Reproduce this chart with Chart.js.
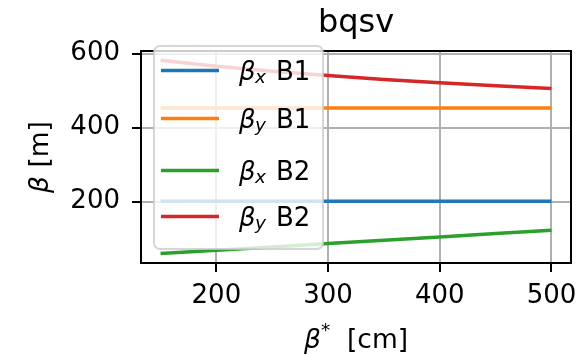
<!DOCTYPE html>
<html><head><meta charset="utf-8">
<script src="https://cdn.jsdelivr.net/npm/chart.js@4/dist/chart.umd.min.js"></script>
<style>html,body{margin:0;padding:0;background:#fff;overflow:hidden}canvas{display:block}</style>
</head><body>
<canvas id="c" width="588" height="354"></canvas>
<script>
// ---- data ----
const betaStar = [150, 200, 250, 300, 350, 400, 450, 500];
const betaXB1  = [201, 201, 201, 201, 201, 201, 201, 201];
const betaYB1  = [453, 453, 453, 453, 453, 453, 453, 453];
const betaXB2  = [60, 69, 78, 87, 96, 105, 114, 123];
const betaYB2  = [582, 566, 552, 541, 530, 521, 513, 506];
const xTicks = [200, 300, 400, 500];
const yTicks = [200, 400, 600];
const legendSubs  = ['x', 'y', 'x', 'y'];
const legendBeams = ['B1', 'B1', 'B2', 'B2'];
const colors = ['#1f77b4', '#ff7f0e', '#2ca02c', '#d62728'];
const titleText = 'bqsv';

const series = [betaXB1, betaYB1, betaXB2, betaYB2];
const FONT = "'DejaVu Sans'";
const TXT = '#000';

const datasets = series.map((s, i) => ({
  label: 'β' + legendSubs[i] + ' ' + legendBeams[i],
  data: betaStar.map((x, j) => ({x: x, y: s[j]})),
  borderColor: colors[i],
  backgroundColor: colors[i],
  borderWidth: 3.5,
  pointRadius: 0,
  tension: 0,
  fill: false
}));

function mathRun(ctx, parts) {
  let w = 0;
  parts.forEach(p => {
    ctx.font = (p.italic ? 'italic ' : '') + p.size + 'px ' + FONT;
    p.w = ctx.measureText(p.t).width;
    w += p.w;
  });
  return w;
}
function drawRun(ctx, parts, x, y) {
  parts.forEach(p => {
    ctx.font = (p.italic ? 'italic ' : '') + p.size + 'px ' + FONT;
    ctx.fillText(p.t, x, y + (p.dy || 0));
    x += p.w;
  });
}

const decor = {
  id: 'decor',
  afterDatasetsDraw(chart) {
    const ctx = chart.ctx, a = chart.chartArea;
    ctx.save();
    // spines
    ctx.strokeStyle = '#000';
    ctx.lineWidth = 2;
    ctx.strokeRect(a.left, a.top, a.right - a.left, a.bottom - a.top);
    // title
    ctx.fillStyle = TXT;
    ctx.textBaseline = 'alphabetic';
    ctx.textAlign = 'center';
    ctx.font = '32px ' + FONT;
    ctx.fillText(titleText, (a.left + a.right) / 2, 32);
    ctx.textAlign = 'left';
    // x label
    const xl = [{t: 'β', italic: true, size: 26.5}, {t: '*', size: 18.5, dy: -12}, {t: '  [cm]', size: 26.5}];
    const xw = mathRun(ctx, xl);
    drawRun(ctx, xl, (a.left + a.right) / 2 - xw / 2, 348);
    // y label
    const yl = [{t: 'β', italic: true, size: 26.5}, {t: ' [m]', size: 26.5}];
    const yw = mathRun(ctx, yl);
    ctx.save();
    ctx.translate(48, (a.top + a.bottom) / 2);
    ctx.rotate(-Math.PI / 2);
    drawRun(ctx, yl, -yw / 2, 0);
    ctx.restore();

    // legend
    const lx = 154, ly = 46, lw = 169, lh = 203, r = 6;
    ctx.beginPath();
    ctx.moveTo(lx + r, ly);
    ctx.arcTo(lx + lw, ly, lx + lw, ly + lh, r);
    ctx.arcTo(lx + lw, ly + lh, lx, ly + lh, r);
    ctx.arcTo(lx, ly + lh, lx, ly, r);
    ctx.arcTo(lx, ly, lx + lw, ly, r);
    ctx.closePath();
    ctx.fillStyle = 'rgba(255,255,255,0.8)';
    ctx.fill();
    ctx.strokeStyle = 'rgba(204,204,204,0.8)';
    ctx.lineWidth = 2;
    ctx.stroke();
    const rowY = [70.5, 118.5, 170.5, 216.5];
    for (let i = 0; i < 4; i++) {
      const y = rowY[i];
      ctx.strokeStyle = colors[i];
      ctx.lineWidth = 3.5;
      ctx.beginPath();
      ctx.moveTo(161, y);
      ctx.lineTo(219, y);
      ctx.stroke();
      ctx.fillStyle = TXT;
      ctx.font = 'italic 26px ' + FONT;
      ctx.fillText('β', 239, y + 9);
      ctx.font = 'italic 18.5px ' + FONT;
      ctx.fillText(legendSubs[i], 255, y + 12.5);
      ctx.font = '26px ' + FONT;
      ctx.fillText(legendBeams[i], 276, y + 9);
    }
    ctx.restore();
  }
};

const gridCommon = {color: '#b0b0b0', lineWidth: 2, drawTicks: true, tickLength: 9, tickColor: '#000', tickWidth: 2};
new Chart(document.getElementById('c'), {
  type: 'line',
  data: {datasets: datasets},
  options: {
    responsive: false,
    animation: false,
    devicePixelRatio: 1,
    layout: {padding: {left: 0, top: 51, right: 17, bottom: 0}},
    plugins: {legend: {display: false}, title: {display: false}, tooltip: {enabled: false}},
    scales: {
      x: {
        type: 'linear', min: 132.5, max: 517.5,
        afterBuildTicks: s => { s.ticks = xTicks.map(v => ({value: v})); },
        afterFit: s => { s.height = 91; },
        grid: gridCommon,
        border: {display: false},
        ticks: {font: {family: 'DejaVu Sans', size: 26}, color: TXT, padding: 9, maxRotation: 0, autoSkip: false, callback: v => String(v)}
      },
      y: {
        type: 'linear', min: 34.5, max: 607,
        afterBuildTicks: s => { s.ticks = yTicks.map(v => ({value: v})); },
        afterFit: s => { s.width = 141; },
        grid: gridCommon,
        border: {display: false},
        ticks: {font: {family: 'DejaVu Sans', size: 26}, color: TXT, padding: 12, autoSkip: false, callback: v => String(v)}
      }
    }
  },
  plugins: [decor]
});
</script>
</body></html>
